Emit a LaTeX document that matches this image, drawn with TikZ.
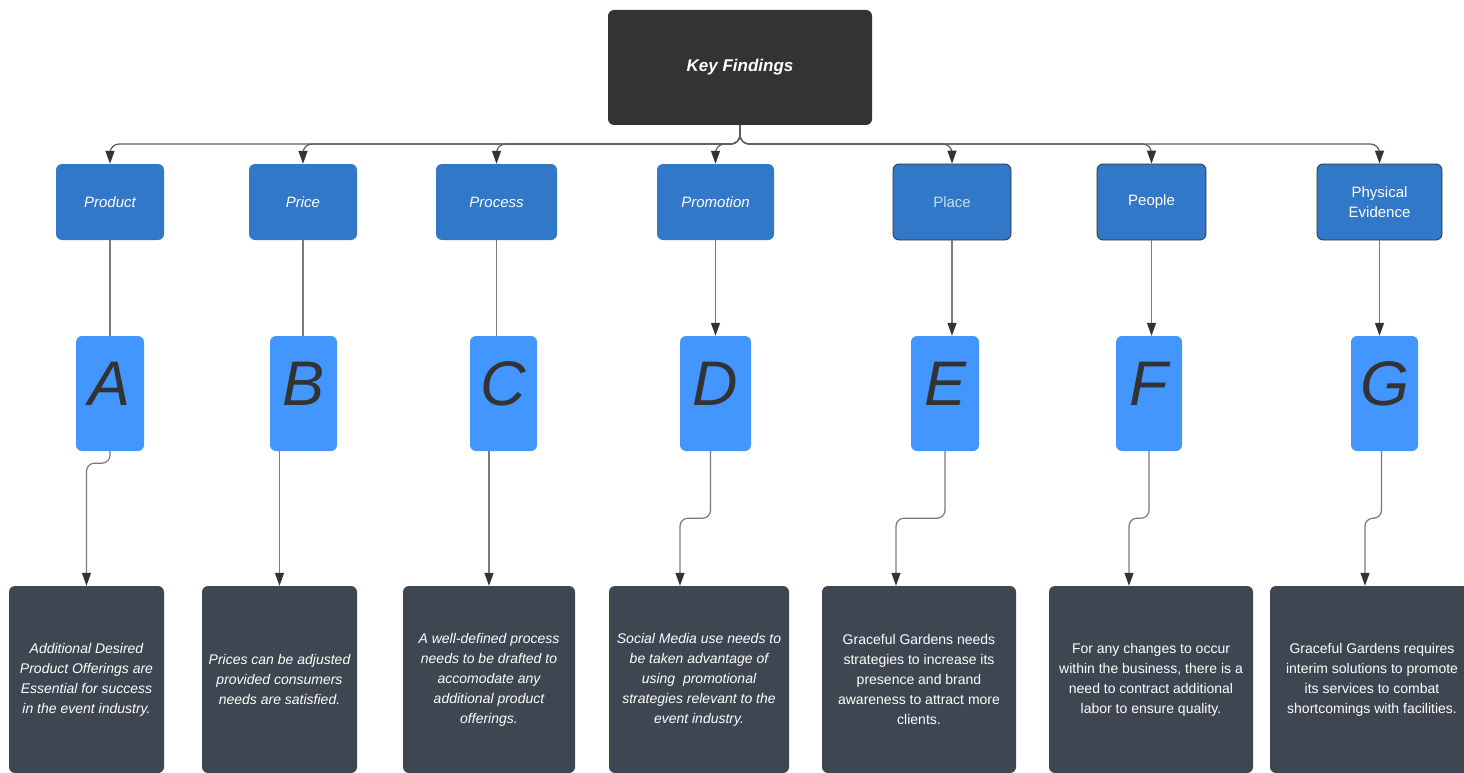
\documentclass[tikz,border=0pt]{standalone}
\usepackage{fontspec}
\setmainfont{Liberation Sans}
\usetikzlibrary{arrows.meta}

\definecolor{keyfill}{HTML}{333333}
\definecolor{catfill}{HTML}{3178C8}
\definecolor{letfill}{HTML}{4496FF}
\definecolor{botfill}{HTML}{3D4651}
\definecolor{linegray}{HTML}{7A7A7A}
\definecolor{tipgray}{HTML}{333333}
\definecolor{placetext}{HTML}{C9DCF4}

\tikzset{
  keybox/.style={fill=keyfill, rounded corners=6pt, minimum width=264pt, minimum height=115pt,
    inner sep=0pt, text=white, font=\fontsize{17}{20}\selectfont\bfseries\itshape},
  catbox/.style={fill=catfill, rounded corners=6pt, minimum height=76pt, inner sep=0pt,
    text=white, align=center, font=\fontsize{15}{20}\selectfont},
  edged/.style={draw=keyfill, line width=0.8pt},
  letbox/.style={fill=letfill, rounded corners=6pt, minimum height=115pt, inner sep=0pt,
    text=keyfill, text height=45pt, text depth=22pt, font=\fontsize{63}{63}\selectfont\itshape},
  botbox/.style={fill=botfill, rounded corners=6pt, minimum height=187pt, inner sep=0pt,
    text=white, align=center, font=\fontsize{14}{20}\selectfont},
  bus/.style={draw=keyfill!80, line width=1.2pt},
  wire/.style={draw=linegray, line width=1.2pt, rounded corners=8pt}
}

\begin{document}
\begin{tikzpicture}[x=1pt,y=-1pt,>={Triangle[length=13pt,width=9pt,color=tipgray]}]
\clip (0,0) rectangle (1464,773);
% heading
\node[keybox] (key) at (740,67.5) {Key Findings};
\coordinate (bus) at (740,144);

% the seven Ps
\node[catbox, minimum width=108pt] (1) at (110,202) {\itshape Product};
\node[catbox, minimum width=108pt] (2) at (303,202) {\itshape Price};
\node[catbox, minimum width=121pt] (3) at (496.5,202) {\itshape Process};
\node[catbox, minimum width=117pt] (4) at (715.5,202) {\itshape Promotion};
\node[catbox, edged, minimum width=118pt, text=placetext] (5) at (952,202) {Place};
\node[catbox, edged, minimum width=109pt] (6) at (1151.5,202) {People};
\node[catbox, edged, minimum width=125pt] (7) at (1379.5,202) {Physical\\Evidence};

% letters
\node[letbox, minimum width=68pt] (A) at (110,393.5) {A};
\node[letbox, minimum width=67pt] (B) at (303.5,393.5) {B};
\node[letbox, minimum width=67pt] (C) at (503.5,393.5) {C};
\node[letbox, minimum width=71pt] (D) at (715.5,393.5) {D};
\node[letbox, minimum width=68pt] (E) at (945,393.5) {E};
\node[letbox, minimum width=66pt] (F) at (1149,393.5) {F};
\node[letbox, minimum width=67pt] (G) at (1384.5,393.5) {G};

% findings
\node[botbox, minimum width=155pt] (a) at (86.5,679.5) {\itshape Additional Desired\\\itshape Product Offerings are\\\itshape Essential for success\\\itshape in the event industry.};
\node[botbox, minimum width=155pt] (b) at (279.5,679.5) {\itshape Prices can be adjusted\\\itshape provided consumers\\\itshape needs are satisfied.};
\node[botbox, minimum width=172pt] (c) at (489,679.5) {\itshape A well-defined process\\\itshape needs to be drafted to\\\itshape accomodate any\\\itshape additional product\\\itshape offerings.};
\node[botbox, minimum width=180pt] (d) at (699,679.5) {\itshape Social Media use needs to\\\itshape be taken advantage of\\\itshape using~ promotional\\\itshape strategies relevant to the\\\itshape event industry.};
\node[botbox, minimum width=194pt] (e) at (919,679.5) {Graceful Gardens needs\\strategies to increase its\\presence and brand\\awareness to attract more\\clients.};
\node[botbox, minimum width=204pt] (f) at (1151,679.5) {For any changes to occur\\within the business, there is a\\need to contract additional\\labor to ensure quality.};
\node[botbox, minimum width=204pt] (g) at (1372,679.5) {Graceful Gardens requires\\interim solutions to promote\\its services to combat\\shortcomings with facilities.};

% heading to the Ps
\foreach \n in {1,...,7}
  \draw[->,bus] (key.south) [rounded corners=9pt] |- (\n.north|-bus) [rounded corners=3pt] -- (\n.north);

% Ps to letters
\path
(1.south) edge[wire] (A.north)
(2.south) edge[wire] (2.south|-B.north)
(3.south) edge[wire] (3.south|-C.north)
(4.south) edge[wire,->] (4.south|-D.north)
(5.south) edge[wire,->] (5.south|-E.north)
(6.south) edge[wire,->] (6.south|-F.north)
(7.south) edge[wire,->] (7.south|-G.north);

% letters to findings
\draw[->,wire] (A.south) -- ++(0,12) -| (a.north);
\draw[->,wire] (b.north|-B.south) -- (b.north);
\draw[->,wire] (c.north|-C.south) -- (c.north);
\draw[->,wire] ([xshift=-5pt]D.south) -- ++(0,67) -| ([xshift=-19pt]d.north);
\draw[->,wire] (E.south) -- ++(0,67) -| ([xshift=-23pt]e.north);
\draw[->,wire] (F.south) -- ++(0,67) -| ([xshift=-22pt]f.north);
\draw[->,wire] ([xshift=-3pt]G.south) -- ++(0,67) -| ([xshift=-7pt]g.north);

\end{tikzpicture}
\end{document}
